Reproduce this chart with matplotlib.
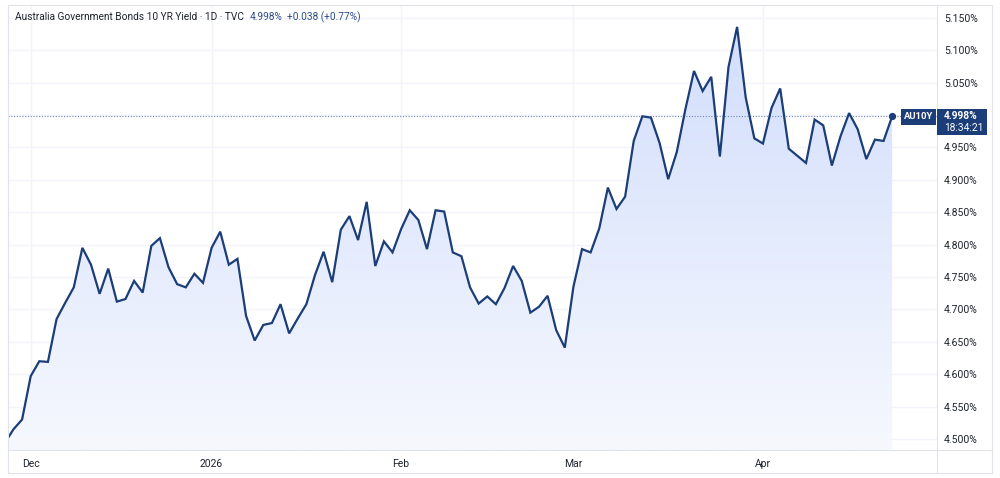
import matplotlib
matplotlib.use("Agg")
import matplotlib.pyplot as plt
import numpy as np
from matplotlib.patches import Rectangle
from matplotlib.lines import Line2D

# ---------------- data ----------------
yields = [4.494, 4.515, 4.530, 4.597, 4.620, 4.619, 4.685, 4.710, 4.734, 4.795,
          4.769, 4.724, 4.763, 4.712, 4.716, 4.744, 4.726, 4.798, 4.810, 4.765,
          4.739, 4.734, 4.755, 4.741, 4.795, 4.820, 4.769, 4.778, 4.690, 4.652,
          4.676, 4.679, 4.708, 4.663, 4.686, 4.708, 4.753, 4.789, 4.742, 4.823,
          4.844, 4.807, 4.866, 4.767, 4.805, 4.788, 4.824, 4.853, 4.838, 4.793,
          4.853, 4.851, 4.788, 4.782, 4.734, 4.709, 4.720, 4.708, 4.733, 4.767,
          4.744, 4.695, 4.704, 4.721, 4.668, 4.641, 4.735, 4.793, 4.788, 4.825,
          4.888, 4.855, 4.874, 4.960, 4.998, 4.996, 4.957, 4.901, 4.943, 5.009,
          5.068, 5.037, 5.059, 4.936, 5.074, 5.136, 5.027, 4.964, 4.956, 5.011,
          5.041, 4.948, 4.937, 4.926, 4.993, 4.984, 4.922, 4.967, 5.003, 4.978,
          4.932, 4.962, 4.960, 4.998]
month_labels = ["Dec", "2026", "Feb", "Mar", "Apr"]
month_index = [3, 24, 46, 66, 88]
ytick_values = [4.50, 4.55, 4.60, 4.65, 4.70, 4.75, 4.80, 4.85, 4.90, 4.95, 5.00, 5.05, 5.10, 5.15]
title_text = "Australia Government Bonds 10 YR Yield · 1D · TVC"
last_text = "4.998%"
change_text = "+0.038 (+0.77%)"
symbol = "AU10Y"
countdown = "18:34:21"

# ---------------- style ----------------
plt.rcParams['font.family'] = ['Roboto', 'DejaVu Sans']
LINE = "#1b3d78"
GRID = "#f2f4fa"
BORDER = "#e0e3eb"
TXT = "#1f232c"

W, H = 1000, 478
fig = plt.figure(figsize=(W / 100, H / 100), dpi=100)
fig.patch.set_facecolor("white")

def fx(x):
    return x / W

def fy(y):
    return 1 - y / H

L, R, T, B = 8, 936.7, 5, 450
ax = fig.add_axes([fx(L), fy(B), (R - L) / W, (B - T) / H])
ax.set_facecolor("white")

x = np.arange(len(yields))
y = np.array(yields)

XLIM = (0.365, 108.17)
YLIM = (4.483, 5.1698)

# grid
for v in ytick_values:
    ax.axhline(v, color=GRID, lw=1.0, zorder=0)
for m in month_index:
    ax.axvline(m, color=GRID, lw=1.0, zorder=0)

# gradient fill under the line
poly = ax.fill_between(x, y, 4.40, color="none", lw=0)
ytop = y.max()
grad = np.linspace(0, 1, 256).reshape(-1, 1)
top_c = np.array([210, 222, 252]) / 255.0
bot_c = np.array([246, 248, 254]) / 255.0
img = top_c[None, None, :] * (1 - grad[:, :, None]) + bot_c[None, None, :] * grad[:, :, None]
im = ax.imshow(img, extent=[x[0], x[-1], YLIM[0], ytop], origin="upper",
               aspect="auto", zorder=1, interpolation="bilinear")
im.set_clip_path(poly.get_paths()[0], transform=ax.transData)

# price line
ax.plot(x, y, color=LINE, lw=1.6, zorder=3, solid_joinstyle="miter")
ax.plot([x[-1]], [y[-1]], "o", color=LINE, ms=4.2, zorder=4)
# dotted last-price line
ax.axhline(y[-1], color="#6f86bf", lw=0.8, ls=(0, (1, 1.5)), zorder=2)

# axes styling
for s in ax.spines.values():
    s.set_visible(False)
ax.yaxis.tick_right()
ax.set_yticks(ytick_values)
ax.set_yticklabels([f"{v:.3f}%" for v in ytick_values])
ax.tick_params(axis="y", length=0, pad=5.3, labelsize=7.5, labelcolor=TXT)
ax.set_xticks(month_index)
ax.set_xticklabels(month_labels)
ax.tick_params(axis="x", length=0, pad=6.5, labelsize=7.5, labelcolor=TXT)
ax.set_ylim(*YLIM)
ax.set_xlim(*XLIM)

# border lines
lines = [
    ([fx(8), fx(992)], [fy(5), fy(5)]),
    ([fx(8), fx(992)], [fy(B), fy(B)]),
    ([fx(8), fx(992)], [fy(472.5), fy(472.5)]),
    ([fx(8), fx(8)], [fy(5), fy(472.5)]),
    ([fx(R), fx(R)], [fy(5), fy(472.5)]),
    ([fx(992), fx(992)], [fy(5), fy(472.5)]),
]
for xs, ys in lines:
    fig.add_artist(Line2D(xs, ys, color=BORDER, lw=0.8))

# title
fig.text(fx(15), fy(17), title_text, fontsize=7.3, color=TXT, va="center", ha="left")
fig.text(fx(250), fy(17), last_text, fontsize=7.3, color="#2b4d8c", va="center", ha="left")
fig.text(fx(287), fy(17), change_text, fontsize=7.3, color="#2b4d8c", va="center", ha="left")

# symbol tag
fig.add_artist(Rectangle((fx(900.7), fy(124.5)), (936 - 900.7) / W, 15.5 / H,
                         transform=fig.transFigure, facecolor=LINE, edgecolor="none",
                         zorder=5))
fig.text(fx(918.3), fy(116.8), symbol, fontsize=6.8, color="white", fontweight="bold",
         ha="center", va="center", zorder=6)
# price box
fig.add_artist(Rectangle((fx(937), fy(135)), (987 - 937) / W, 26 / H,
                         transform=fig.transFigure, facecolor=LINE, edgecolor="none",
                         zorder=5))
fig.text(fx(944), fy(116), last_text, fontsize=7.3, color="white", fontweight="bold",
         ha="left", va="center", zorder=6)
fig.text(fx(944), fy(128), countdown, fontsize=7.3, color="white",
         ha="left", va="center", zorder=6)

fig.savefig("out.png", dpi=100, facecolor="white")
